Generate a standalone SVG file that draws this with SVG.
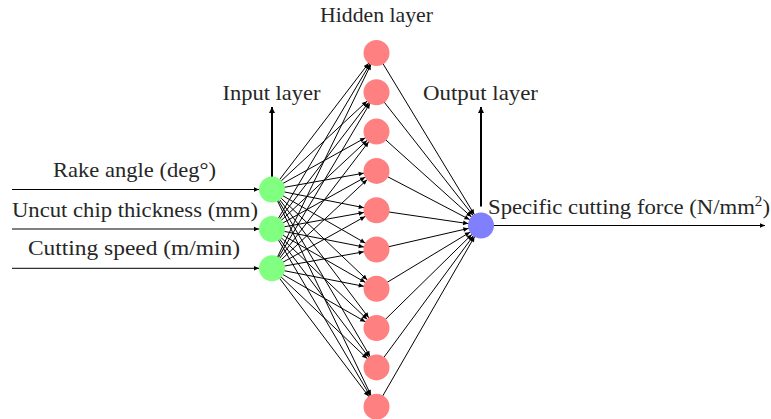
<svg xmlns="http://www.w3.org/2000/svg" width="771" height="419" viewBox="0 0 771 419">
<style>
text{font-family:"Liberation Serif","DejaVu Serif",serif;font-size:21px;fill:#262626}
.c{stroke:#000;stroke-width:1;fill:none}
.t{stroke:#000;stroke-width:2;fill:none}
.in{fill:#80ff80}.hid{fill:#ff8080}.out{fill:#8080ff}
</style>
<defs>
<marker id="an" markerUnits="userSpaceOnUse" viewBox="-30 -5 60 10" markerWidth="60" markerHeight="10" refX="23" refY="0" orient="auto" overflow="visible"><path d="M5,-2.3 L10,0 L5,2.3 z" fill="#000"/></marker>
<marker id="ae" markerUnits="userSpaceOnUse" viewBox="-10 -5 20 10" markerWidth="20" markerHeight="10" refX="0" refY="0" orient="auto" overflow="visible"><path d="M-5,-2.3 L0,0 L-5,2.3 z" fill="#000"/></marker>
<marker id="at" markerUnits="userSpaceOnUse" viewBox="-10 -5 20 10" markerWidth="20" markerHeight="10" refX="0" refY="0" orient="auto" overflow="visible"><path d="M-6,-3 L0,0 L-6,3 z" fill="#000"/></marker>
</defs>
<g id="connectors">
<g class="c" marker-end="url(#an)">
<line x1="12" y1="189.5" x2="272" y2="189.5"/>
<line x1="12" y1="229" x2="272" y2="229"/>
<line x1="12" y1="268.3" x2="272" y2="268.3"/>
</g>
<g class="c" marker-end="url(#an)">
<line x1="272" y1="189.5" x2="376.5" y2="53"/><line x1="272" y1="189.5" x2="376.5" y2="92.3"/><line x1="272" y1="189.5" x2="376.5" y2="131.6"/><line x1="272" y1="189.5" x2="376.5" y2="170.9"/><line x1="272" y1="189.5" x2="376.5" y2="210.2"/><line x1="272" y1="189.5" x2="376.5" y2="249.5"/><line x1="272" y1="189.5" x2="376.5" y2="288.8"/><line x1="272" y1="189.5" x2="376.5" y2="328.1"/><line x1="272" y1="189.5" x2="376.5" y2="367.4"/><line x1="272" y1="189.5" x2="376.5" y2="406.7"/>
<line x1="272" y1="229" x2="376.5" y2="53"/><line x1="272" y1="229" x2="376.5" y2="92.3"/><line x1="272" y1="229" x2="376.5" y2="131.6"/><line x1="272" y1="229" x2="376.5" y2="170.9"/><line x1="272" y1="229" x2="376.5" y2="210.2"/><line x1="272" y1="229" x2="376.5" y2="249.5"/><line x1="272" y1="229" x2="376.5" y2="288.8"/><line x1="272" y1="229" x2="376.5" y2="328.1"/><line x1="272" y1="229" x2="376.5" y2="367.4"/><line x1="272" y1="229" x2="376.5" y2="406.7"/>
<line x1="272" y1="268.3" x2="376.5" y2="53"/><line x1="272" y1="268.3" x2="376.5" y2="92.3"/><line x1="272" y1="268.3" x2="376.5" y2="131.6"/><line x1="272" y1="268.3" x2="376.5" y2="170.9"/><line x1="272" y1="268.3" x2="376.5" y2="210.2"/><line x1="272" y1="268.3" x2="376.5" y2="249.5"/><line x1="272" y1="268.3" x2="376.5" y2="288.8"/><line x1="272" y1="268.3" x2="376.5" y2="328.1"/><line x1="272" y1="268.3" x2="376.5" y2="367.4"/><line x1="272" y1="268.3" x2="376.5" y2="406.7"/>
<line x1="376.5" y1="53" x2="481" y2="225.5"/><line x1="376.5" y1="92.3" x2="481" y2="225.5"/><line x1="376.5" y1="131.6" x2="481" y2="225.5"/><line x1="376.5" y1="170.9" x2="481" y2="225.5"/><line x1="376.5" y1="210.2" x2="481" y2="225.5"/><line x1="376.5" y1="249.5" x2="481" y2="225.5"/><line x1="376.5" y1="288.8" x2="481" y2="225.5"/><line x1="376.5" y1="328.1" x2="481" y2="225.5"/><line x1="376.5" y1="367.4" x2="481" y2="225.5"/><line x1="376.5" y1="406.7" x2="481" y2="225.5"/>
</g>
<line class="c" x1="481" y1="225.5" x2="765" y2="225.5" marker-end="url(#ae)"/>
<line class="t" x1="272" y1="189.5" x2="272" y2="107" marker-end="url(#at)"/>
<line class="t" x1="481" y1="206.5" x2="481" y2="107" marker-end="url(#at)"/>
</g>
<g id="input-nodes">
<g id="in1"><circle class="in" cx="272" cy="189.5" r="13"/></g>
<g id="in2"><circle class="in" cx="272" cy="229" r="13"/></g>
<g id="in3"><circle class="in" cx="272" cy="268.3" r="13"/></g>
</g>
<g id="hidden-nodes">
<g id="h1"><circle class="hid" cx="376.5" cy="53" r="13"/></g>
<g id="h2"><circle class="hid" cx="376.5" cy="92.3" r="13"/></g>
<g id="h3"><circle class="hid" cx="376.5" cy="131.6" r="13"/></g>
<g id="h4"><circle class="hid" cx="376.5" cy="170.9" r="13"/></g>
<g id="h5"><circle class="hid" cx="376.5" cy="210.2" r="13"/></g>
<g id="h6"><circle class="hid" cx="376.5" cy="249.5" r="13"/></g>
<g id="h7"><circle class="hid" cx="376.5" cy="288.8" r="13"/></g>
<g id="h8"><circle class="hid" cx="376.5" cy="328.1" r="13"/></g>
<g id="h9"><circle class="hid" cx="376.5" cy="367.4" r="13"/></g>
<g id="h10"><circle class="hid" cx="376.5" cy="406.7" r="13"/></g>
</g>
<g id="output-node"><circle class="out" cx="481" cy="225.5" r="13"/></g>
<g id="labels">
<text x="376.5" y="22" text-anchor="middle" textLength="113" lengthAdjust="spacingAndGlyphs">Hidden layer</text>
<text x="271.5" y="100" text-anchor="middle" textLength="98" lengthAdjust="spacingAndGlyphs">Input layer</text>
<text x="480.5" y="100" text-anchor="middle" textLength="115" lengthAdjust="spacingAndGlyphs">Output layer</text>
<text x="53" y="177" textLength="163" lengthAdjust="spacingAndGlyphs">Rake angle (deg°)</text>
<text x="12" y="217" textLength="246" lengthAdjust="spacingAndGlyphs">Uncut chip thickness (mm)</text>
<text x="28" y="255" textLength="212" lengthAdjust="spacingAndGlyphs">Cutting speed (m/min)</text>
<text x="488" y="214" textLength="282" lengthAdjust="spacingAndGlyphs">Specific cutting force (N/mm<tspan dy="-8" font-size="14">2</tspan><tspan dy="8">)</tspan></text>
</g>
</svg>
